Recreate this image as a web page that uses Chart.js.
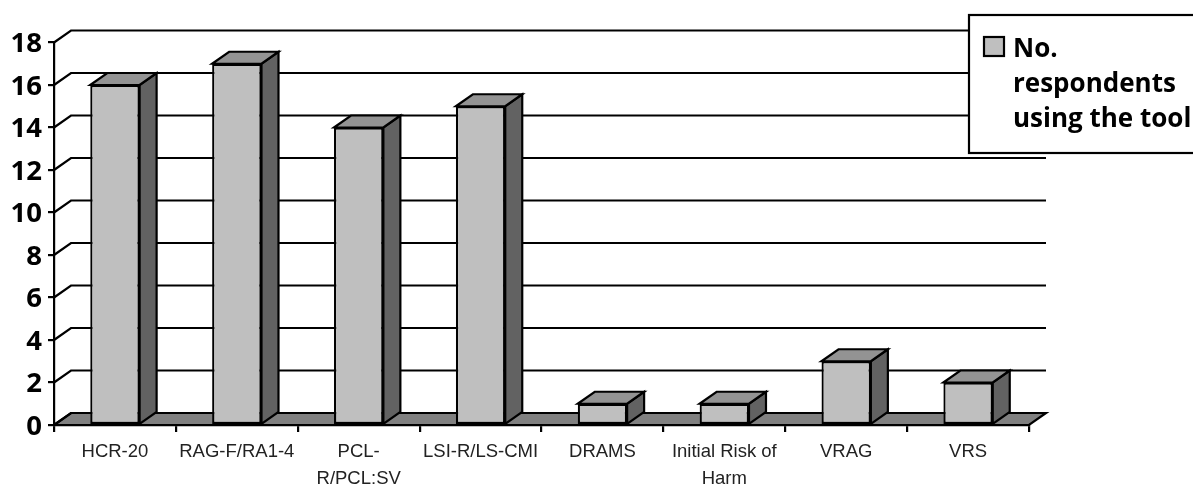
<!DOCTYPE html>
<html>
<head>
<meta charset="utf-8">
<style>html,body{margin:0;padding:0;background:#fff}canvas{display:block}</style>
<script src="https://cdn.jsdelivr.net/npm/chart.js@4"></script>
</head>
<body>
<canvas id="c" width="1193" height="485"></canvas>
<script>
const categories = ['HCR-20','RAG-F/RA1-4',['PCL-','R/PCL:SV'],'LSI-R/LS-CMI','DRAMS',['Initial Risk of','Harm'],'VRAG','VRS'];
const respondents = [16,17,14,15,1,1,3,2];
const seriesLabelLines = ['No.','respondents','using the tool'];

const DX = 17, DY = 12;
const LINE = 2.2;
const FRONT = '#bfbfbf', TOP = '#939393', SIDE = '#626262', FLOOR = '#808080';

function poly(ctx, pts, fill) {
  ctx.beginPath();
  pts.forEach((p, i) => i ? ctx.lineTo(p[0], p[1]) : ctx.moveTo(p[0], p[1]));
  ctx.closePath();
  if (fill) { ctx.fillStyle = fill; ctx.fill(); }
  ctx.stroke();
}

const threeD = {
  id: 'threeD',
  beforeDatasetsDraw(chart) {
    const {ctx, chartArea: a, scales: {y}} = chart;
    ctx.save();
    ctx.strokeStyle = '#000';
    ctx.lineWidth = LINE;
    ctx.lineJoin = 'miter';
    const y0 = y.getPixelForValue(0);
    poly(ctx, [[a.left,y0],[a.left+DX,y0-DY],[a.right+DX,y0-DY],[a.right,y0]], FLOOR);
    y.ticks.forEach(t => {
      const py = y.getPixelForValue(t.value);
      ctx.beginPath();
      ctx.moveTo(a.left, py);
      ctx.lineTo(a.left + DX, py - DY);
      ctx.lineTo(a.right + DX, py - DY);
      ctx.stroke();
    });
    ctx.beginPath();
    ctx.moveTo(a.left, y0); ctx.lineTo(a.right, y0); ctx.stroke();
    chart.getDatasetMeta(0).data.forEach(b => {
      const p = b.getProps(['x','y','base','width'], true);
      const l = p.x - p.width/2, r = p.x + p.width/2;
      poly(ctx, [[r,p.y],[r+DX,p.y-DY],[r+DX,p.base-DY],[r,p.base]], SIDE);
      poly(ctx, [[l,p.y],[l+DX,p.y-DY],[r+DX,p.y-DY],[r,p.y]], TOP);
    });
    ctx.restore();
  },
  afterDraw(chart) {
    const ctx = chart.ctx;
    ctx.save();
    ctx.fillStyle = '#fff';
    ctx.strokeStyle = '#000';
    ctx.lineWidth = LINE;
    ctx.fillRect(969, 15, 230, 138);
    ctx.strokeRect(969, 15, 230, 138);
    ctx.fillStyle = FRONT;
    ctx.fillRect(984, 37, 20, 19);
    ctx.strokeRect(984, 37, 20, 19);
    ctx.fillStyle = '#000';
    ctx.font = 'bold 26px "Open Sans"';
    ctx.textBaseline = 'alphabetic';
    ctx.textAlign = 'left';
    seriesLabelLines.forEach((s, i) => ctx.fillText(s, 1013, 57 + i * 35));
    ctx.restore();
  }
};

new Chart(document.getElementById('c'), {
  type: 'bar',
  data: {
    labels: categories,
    datasets: [{
      label: seriesLabelLines.join(' '),
      data: respondents,
      backgroundColor: FRONT,
      borderColor: '#000',
      borderWidth: LINE,
      borderSkipped: false,
      categoryPercentage: 1,
      barPercentage: 0.405
    }]
  },
  options: {
    responsive: false,
    animation: false,
    layout: {padding: {top: 42.5, right: 164, left: 0, bottom: 0}},
    plugins: {legend: {display: false}, tooltip: {enabled: false}, title: {display: false}},
    scales: {
      x: {
        afterFit(s) { s.height = 60; },
        border: {display: true, color: '#000', width: LINE},
        grid: {drawOnChartArea: false, drawTicks: true, tickLength: 7, color: '#000', lineWidth: LINE, offset: true},
        ticks: {
          color: '#222', maxRotation: 0, minRotation: 0, autoSkip: false, padding: 6,
          font: {family: 'Liberation Sans', size: 18.5, lineHeight: 1.47}
        }
      },
      y: {
        min: 0, max: 18,
        afterFit(s) { s.width = 54; },
        border: {display: true, color: '#000', width: LINE},
        grid: {drawOnChartArea: false, drawTicks: true, tickLength: 6, color: '#000', lineWidth: LINE},
        ticks: {
          stepSize: 2, color: '#000', padding: 6, labelOffset: 2,
          font: {family: 'Open Sans', size: 27.5, weight: 'bold'}
        }
      }
    }
  },
  plugins: [threeD]
});
</script>
</body>
</html>
